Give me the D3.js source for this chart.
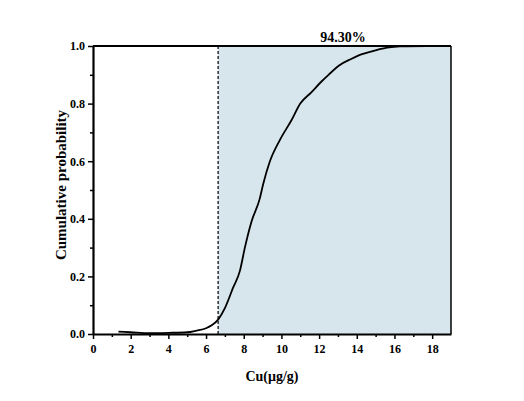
<!DOCTYPE html>
<html>
<head>
<meta charset="utf-8">
<script src="https://cdn.jsdelivr.net/npm/d3@7"></script>
<style>
  body { margin: 0; background: #fff; }
  text { font-family: "Liberation Serif", "Times New Roman", serif; font-weight: bold; }
</style>
</head>
<body>
<script>
const width = 524;
const height = 401;

// Cu concentration (µg/g) and cumulative probability
const cuValues = [1.35, 2, 3, 4, 5, 5.5, 6, 6.3, 6.64, 7.0, 7.43, 7.8, 8.06, 8.41, 8.85, 9.03, 9.38, 9.92, 10.54, 11.0, 11.6, 12.1, 12.5, 13.1, 13.7, 14.2, 15, 15.6, 16.3, 17.7];
const cumProb = [0.008, 0.006, 0.003, 0.004, 0.006, 0.012, 0.02, 0.03, 0.05, 0.09, 0.16, 0.22, 0.30, 0.39, 0.47, 0.52, 0.598, 0.674, 0.743, 0.80, 0.84, 0.875, 0.90, 0.934, 0.955, 0.97, 0.985, 0.994, 0.999, 1.0];
const threshold = 6.64;
const exceedLabel = "94.30%";
const xTicks = [0, 2, 4, 6, 8, 10, 12, 14, 16, 18];
const yTicks = [0, 0.2, 0.4, 0.6, 0.8, 1.0];

const margin = { top: 46, right: 73, bottom: 67, left: 93 };

const x = d3.scaleLinear().domain([0, 19]).range([margin.left, width - margin.right]);
const y = d3.scaleLinear().domain([0, 1]).range([height - margin.bottom, margin.top]);

const svg = d3.select("body").append("svg")
    .attr("width", width)
    .attr("height", height);

// shaded region above threshold
svg.append("rect")
    .attr("x", x(threshold))
    .attr("y", y(1))
    .attr("width", x(19) - x(threshold))
    .attr("height", y(0) - y(1))
    .attr("fill", "#d7e5ec");

// frame top / right
svg.append("line")
    .attr("x1", x(0)).attr("x2", x(19))
    .attr("y1", y(1)).attr("y2", y(1))
    .attr("stroke", "#000").attr("stroke-width", 1.8);
svg.append("line")
    .attr("x1", x(19)).attr("x2", x(19))
    .attr("y1", y(1)).attr("y2", y(0))
    .attr("stroke", "#000").attr("stroke-width", 1.5);

// dashed threshold line
svg.append("line")
    .attr("x1", x(threshold)).attr("x2", x(threshold))
    .attr("y1", y(1)).attr("y2", y(0))
    .attr("stroke", "#000")
    .attr("stroke-width", 1.2)
    .attr("stroke-dasharray", "3,2");

// minor ticks
const xMinor = d3.range(1, 19, 2);
const yMinor = d3.range(0.1, 1, 0.2);

const xAxisG = svg.append("g").attr("transform", `translate(0,${y(0)})`);
xAxisG.call(d3.axisBottom(x).tickValues(xMinor).tickSize(3).tickFormat(""));
xAxisG.call(g => g.select(".domain").remove());
const xMajorG = svg.append("g").attr("transform", `translate(0,${y(0)})`)
    .call(d3.axisBottom(x).tickValues(xTicks).tickSize(5).tickSizeOuter(0).tickPadding(5).tickFormat(d3.format("d")));

const yAxisG = svg.append("g").attr("transform", `translate(${x(0)},0)`);
yAxisG.call(d3.axisLeft(y).tickValues(yMinor).tickSize(3).tickFormat(""));
yAxisG.call(g => g.select(".domain").remove());
const yMajorG = svg.append("g").attr("transform", `translate(${x(0)},0)`)
    .call(d3.axisLeft(y).tickValues(yTicks).tickSize(5).tickSizeOuter(0).tickPadding(3).tickFormat(d3.format(".1f")));

svg.selectAll(".tick line").attr("stroke", "#000").attr("stroke-width", 1.5);
[xMajorG, yMajorG].forEach(g => {
    g.select(".domain").attr("stroke", "#000").attr("stroke-width", 2.2);
    g.selectAll("text")
        .attr("fill", "#000")
        .style("font-family", '"Liberation Serif", serif')
        .style("font-weight", "bold")
        .style("font-size", "12px");
});

// curve
const line = d3.line()
    .x((d, i) => x(cuValues[i]))
    .y(d => y(d))
    .curve(d3.curveMonotoneX);

svg.append("path")
    .datum(cumProb)
    .attr("d", line)
    .attr("fill", "none")
    .attr("stroke", "#000")
    .attr("stroke-width", 1.8);

// labels
svg.append("text")
    .attr("x", 343)
    .attr("y", 42)
    .attr("text-anchor", "middle")
    .style("font-size", "14px")
    .text(exceedLabel);

svg.append("text")
    .attr("x", 272)
    .attr("y", 381)
    .attr("text-anchor", "middle")
    .style("font-size", "14px")
    .text("Cu(μg/g)");

svg.append("text")
    .attr("transform", "translate(66,185) rotate(-90)")
    .attr("text-anchor", "middle")
    .style("font-size", "15px")
    .text("Cumulative probability");
</script>
</body>
</html>
